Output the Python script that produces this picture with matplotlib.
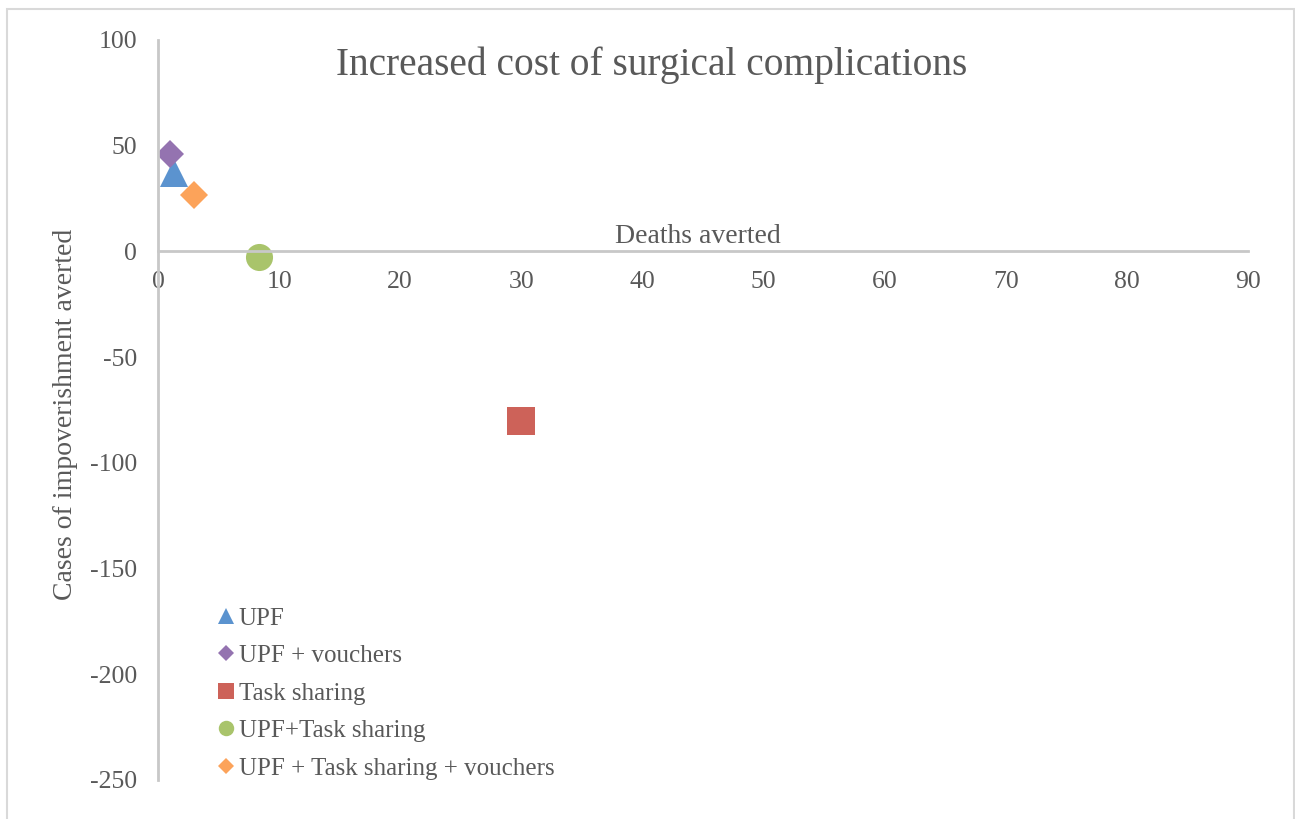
import matplotlib
matplotlib.use('Agg')
import matplotlib.pyplot as plt
from matplotlib.patches import Rectangle

plt.rcParams['font.family'] = ['Liberation Serif', 'DejaVu Serif']
plt.rcParams['axes.unicode_minus'] = False

# data
labels = ['UPF', 'UPF + vouchers', 'Task sharing', 'UPF+Task sharing',
          'UPF + Task sharing + vouchers']
deaths_averted = [1.3, 1.0, 30.0, 8.3, 3.0]
impoverishment_averted = [37, 46, -80, -2.5, 26.5]

x_ticks = [0, 10, 20, 30, 40, 50, 60, 70, 80, 90]
y_ticks = [100, 50, 0, -50, -100, -150, -200, -250]

markers = ['^', 'D', 's', 'o', 'D']
colors = ['#5B93CF', '#9473B0', '#CD6259', '#A9C46B', '#FCA35A']
sizes = [20, 14, 19.5, 19.5, 14]
text_col = '#595959'
axis_col = '#C8C8C8'

fig = plt.figure(figsize=(12.95, 8.19), dpi=100)
fig.patches.append(Rectangle((7 / 1295, -0.1), 1287 / 1295, 1.1 - 9 / 819,
                             transform=fig.transFigure, fill=False,
                             edgecolor='#D9D9D9', linewidth=1.5))
ax = fig.add_axes([158 / 1295, 39 / 819, 1090 / 1295, 740 / 819])

for x, y, lab, m, c, s in zip(deaths_averted, impoverishment_averted,
                              labels, markers, colors, sizes):
    ax.plot([x], [y], linestyle='none', marker=m, color=c, markersize=s,
            markeredgewidth=0, label=lab)

ax.set_xlim(0, 90)
ax.set_ylim(-250, 100)
ax.set_xticks(x_ticks)
ax.set_yticks(y_ticks)

ax.spines['top'].set_visible(False)
ax.spines['right'].set_visible(False)
ax.spines['bottom'].set_position(('data', 0))
ax.spines['left'].set_position(('data', 0))
for sp in ('bottom', 'left'):
    ax.spines[sp].set_color(axis_col)
    ax.spines[sp].set_linewidth(2)
ax.tick_params(axis='both', length=0, labelsize=18.5, colors=text_col)
ax.tick_params(axis='x', pad=14)
ax.tick_params(axis='y', pad=15)

ax.text(0.453, 0.966, 'Increased cost of surgical complications',
        transform=ax.transAxes, ha='center', va='center', fontsize=28.4,
        color=text_col)
ax.text(44.6, 7, 'Deaths averted', ha='center', va='center',
        fontsize=20, color=text_col)
fig.text(66 / 1295, 1 - 414 / 819, 'Cases of impoverishment averted',
         rotation=90, ha='center', va='center', fontsize=20, color=text_col)

leg = ax.legend(loc='lower left', bbox_to_anchor=(0.035, -0.03),
                frameon=False, fontsize=18, markerscale=0.57,
                handlelength=0.6, handletextpad=0.2, labelspacing=0.6,
                labelcolor=text_col)

fig.savefig('out.png', dpi=100)
